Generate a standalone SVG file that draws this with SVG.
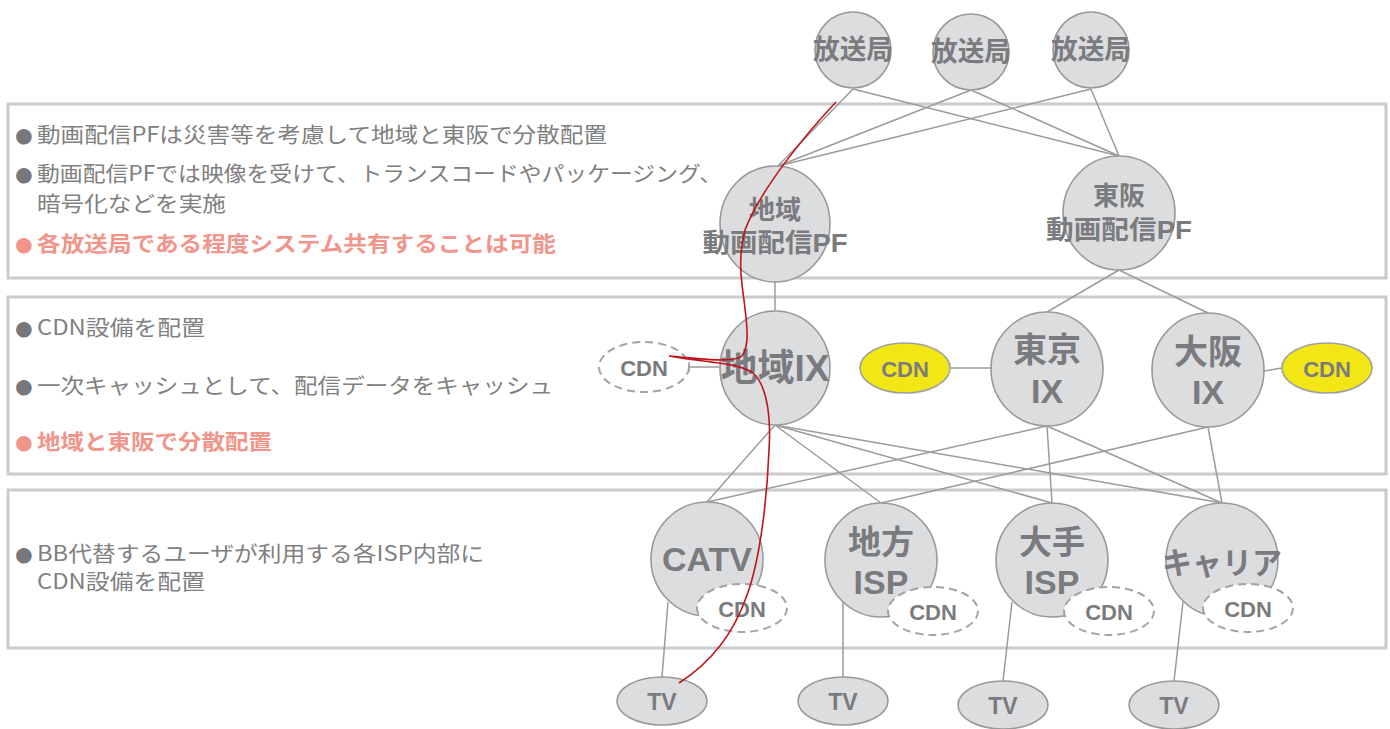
<svg xmlns="http://www.w3.org/2000/svg" width="1390" height="729" viewBox="0 0 1390 729">
<style>
.panel{fill:none;stroke:#cbcbcb;stroke-width:3}
.node{fill:#dcdddf;stroke:#99999b;stroke-width:1.6}
.cdnd{fill:#ffffff;stroke:#a3a3a3;stroke-width:2;stroke-dasharray:8 5}
.cdny{fill:#f2e714;stroke:#a0a0a0;stroke-width:1.6}
.lbl{font-family:"Liberation Sans","Noto Sans CJK JP",sans-serif;font-weight:bold;fill:#7a7b7e;text-anchor:middle;dominant-baseline:central}
.note{font-family:"Noto Sans CJK JP",sans-serif;font-size:21px;fill:#808080;dominant-baseline:central}
.hl{fill:#f1958b;font-weight:bold}
.bul{font-family:"Liberation Sans",sans-serif;font-size:36px;fill:#77787b;dominant-baseline:central}
.bulhl{fill:#f1958b}
#connectors line{stroke:#9b9b9b;stroke-width:1.5}
.red{fill:none;stroke:#c0141c;stroke-width:1.6}
</style>

<g id="panels">
<rect class="panel" x="8" y="104" width="1378" height="174"/>
<rect class="panel" x="8" y="297" width="1378" height="177"/>
<rect class="panel" x="8" y="490" width="1378" height="158"/>
</g>

<g id="notes">
<text class="bul" x="13" y="134">●</text>
<text class="note" x="37" y="133" textLength="570" lengthAdjust="spacingAndGlyphs">動画配信PFは災害等を考慮して地域と東阪で分散配置</text>
<text class="bul" x="13" y="173">●</text>
<text class="note" x="37" y="172" textLength="685" lengthAdjust="spacingAndGlyphs">動画配信PFでは映像を受けて、トランスコードやパッケージング、</text>
<text class="note" x="37" y="202" textLength="189" lengthAdjust="spacingAndGlyphs">暗号化などを実施</text>
<text class="bul bulhl" x="13" y="243">●</text>
<text class="note hl" x="37" y="242" textLength="519" lengthAdjust="spacingAndGlyphs">各放送局である程度システム共有することは可能</text>

<text class="bul" x="13" y="327">●</text>
<text class="note" x="37" y="326" textLength="168" lengthAdjust="spacingAndGlyphs">CDN設備を配置</text>
<text class="bul" x="13" y="385">●</text>
<text class="note" x="37" y="384" textLength="516" lengthAdjust="spacingAndGlyphs">一次キャッシュとして、配信データをキャッシュ</text>
<text class="bul bulhl" x="13" y="441">●</text>
<text class="note hl" x="37" y="440" textLength="235" lengthAdjust="spacingAndGlyphs">地域と東阪で分散配置</text>

<text class="bul" x="13" y="553">●</text>
<text class="note" x="37" y="552" textLength="447" lengthAdjust="spacingAndGlyphs">BB代替するユーザが利用する各ISP内部に</text>
<text class="note" x="37" y="580" textLength="168" lengthAdjust="spacingAndGlyphs">CDN設備を配置</text>
</g>

<g id="connectors">
<line x1="853" y1="89" x2="778" y2="166"/>
<line x1="853" y1="89" x2="1119" y2="156"/>
<line x1="971" y1="90" x2="778" y2="166"/>
<line x1="971" y1="90" x2="1119" y2="156"/>
<line x1="1091" y1="89" x2="778" y2="166"/>
<line x1="1091" y1="89" x2="1119" y2="156"/>
<line x1="775" y1="282" x2="775" y2="310"/>
<line x1="1119" y1="270" x2="1047" y2="312"/>
<line x1="1119" y1="270" x2="1208" y2="313"/>
<line x1="689" y1="367" x2="720" y2="367"/>
<line x1="689" y1="362" x2="689" y2="372"/>
<line x1="950" y1="368" x2="991" y2="368"/>
<line x1="1264" y1="371" x2="1282" y2="368"/>
<line x1="775" y1="425" x2="707" y2="502"/>
<line x1="775" y1="425" x2="881" y2="503"/>
<line x1="775" y1="425" x2="1052" y2="503"/>
<line x1="775" y1="425" x2="1222" y2="503"/>
<line x1="1047" y1="426" x2="707" y2="502"/>
<line x1="1047" y1="426" x2="1052" y2="503"/>
<line x1="1047" y1="426" x2="1222" y2="503"/>
<line x1="1208" y1="427" x2="881" y2="503"/>
<line x1="1208" y1="427" x2="1222" y2="503"/>
<line x1="668" y1="602" x2="662" y2="677"/>
<line x1="843" y1="602" x2="843" y2="677"/>
<line x1="1012" y1="602" x2="1003" y2="681"/>
<line x1="1183" y1="602" x2="1174" y2="681"/>
</g>

<g id="bs1"><ellipse class="node" cx="853" cy="50" rx="38" ry="38"/><text class="lbl" x="853" y="50" font-size="27" textLength="80" lengthAdjust="spacingAndGlyphs">放送局</text></g>
<g id="bs2"><ellipse class="node" cx="971" cy="52" rx="38" ry="38"/><text class="lbl" x="971" y="52" font-size="27" textLength="80" lengthAdjust="spacingAndGlyphs">放送局</text></g>
<g id="bs3"><ellipse class="node" cx="1091" cy="50" rx="38" ry="38"/><text class="lbl" x="1091" y="50" font-size="27" textLength="80" lengthAdjust="spacingAndGlyphs">放送局</text></g>

<g id="pf-chiiki"><ellipse class="node" cx="775" cy="224" rx="55" ry="58"/>
<text class="lbl" x="775" y="210" font-size="26">地域</text>
<text class="lbl" x="775" y="243" font-size="26" textLength="145" lengthAdjust="spacingAndGlyphs">動画配信PF</text></g>
<g id="pf-tohan"><ellipse class="node" cx="1119" cy="213" rx="56" ry="57"/>
<text class="lbl" x="1119" y="196" font-size="26">東阪</text>
<text class="lbl" x="1119" y="230" font-size="26" textLength="146" lengthAdjust="spacingAndGlyphs">動画配信PF</text></g>

<g id="ix-chiiki"><ellipse class="node" cx="775" cy="368" rx="55" ry="57"/>
<text class="lbl" x="775" y="368" font-size="37" textLength="109" lengthAdjust="spacingAndGlyphs">地域IX</text></g>
<g id="cdn-chiiki"><ellipse class="cdnd" cx="644" cy="367" rx="45" ry="25"/><text class="lbl" x="644" y="368" font-size="22">CDN</text></g>
<g id="cdn-tokyo"><ellipse class="cdny" cx="905" cy="368" rx="45" ry="25"/><text class="lbl" x="905" y="369" font-size="22">CDN</text></g>
<g id="ix-tokyo"><ellipse class="node" cx="1047" cy="369" rx="56" ry="57"/>
<text class="lbl" x="1047" y="350" font-size="34">東京</text>
<text class="lbl" x="1047" y="391" font-size="34">IX</text></g>
<g id="ix-osaka"><ellipse class="node" cx="1208" cy="370" rx="56" ry="57"/>
<text class="lbl" x="1208" y="352" font-size="34">大阪</text>
<text class="lbl" x="1208" y="392" font-size="34">IX</text></g>
<g id="cdn-osaka"><ellipse class="cdny" cx="1327" cy="368" rx="45" ry="25"/><text class="lbl" x="1327" y="369" font-size="22">CDN</text></g>

<g id="catv"><ellipse class="node" cx="707" cy="559" rx="56" ry="57"/>
<text class="lbl" x="707" y="559" font-size="34">CATV</text>
<ellipse class="cdnd" cx="742" cy="608" rx="45" ry="24"/><text class="lbl" x="742" y="609" font-size="22">CDN</text></g>
<g id="isp-chiho"><ellipse class="node" cx="881" cy="560" rx="56" ry="57"/>
<text class="lbl" x="881" y="542" font-size="33">地方</text>
<text class="lbl" x="881" y="582" font-size="34">ISP</text>
<ellipse class="cdnd" cx="933" cy="611" rx="45" ry="24"/><text class="lbl" x="933" y="612" font-size="22">CDN</text></g>
<g id="isp-ote"><ellipse class="node" cx="1052" cy="560" rx="56" ry="57"/>
<text class="lbl" x="1052" y="542" font-size="33">大手</text>
<text class="lbl" x="1052" y="582" font-size="34">ISP</text>
<ellipse class="cdnd" cx="1109" cy="611" rx="45" ry="24"/><text class="lbl" x="1109" y="612" font-size="22">CDN</text></g>
<g id="carrier"><ellipse class="node" cx="1222" cy="560" rx="56" ry="57"/>
<text class="lbl" x="1222" y="563" font-size="31" textLength="120" lengthAdjust="spacingAndGlyphs">キャリア</text>
<ellipse class="cdnd" cx="1248" cy="608" rx="45" ry="24"/><text class="lbl" x="1248" y="609" font-size="22">CDN</text></g>

<g id="tv1"><ellipse class="node" cx="662" cy="701" rx="45" ry="24"/><text class="lbl" x="662" y="702" font-size="23">TV</text></g>
<g id="tv2"><ellipse class="node" cx="843" cy="701" rx="45" ry="24"/><text class="lbl" x="843" y="702" font-size="23">TV</text></g>
<g id="tv3"><ellipse class="node" cx="1003" cy="705" rx="45" ry="24"/><text class="lbl" x="1003" y="706" font-size="23">TV</text></g>
<g id="tv4"><ellipse class="node" cx="1174" cy="705" rx="45" ry="24"/><text class="lbl" x="1174" y="706" font-size="23">TV</text></g>

<g id="route">
<path class="red" d="M836,102 C805,135 760,190 745,230 C738,255 741,280 744,300 C747,325 750,345 742,356 C735,363 700,359 669,356 C700,362 735,362 752,372 C768,385 771,420 769,450 C767,500 760,560 747,595 C735,630 715,660 679,683"/>
</g>
</svg>
